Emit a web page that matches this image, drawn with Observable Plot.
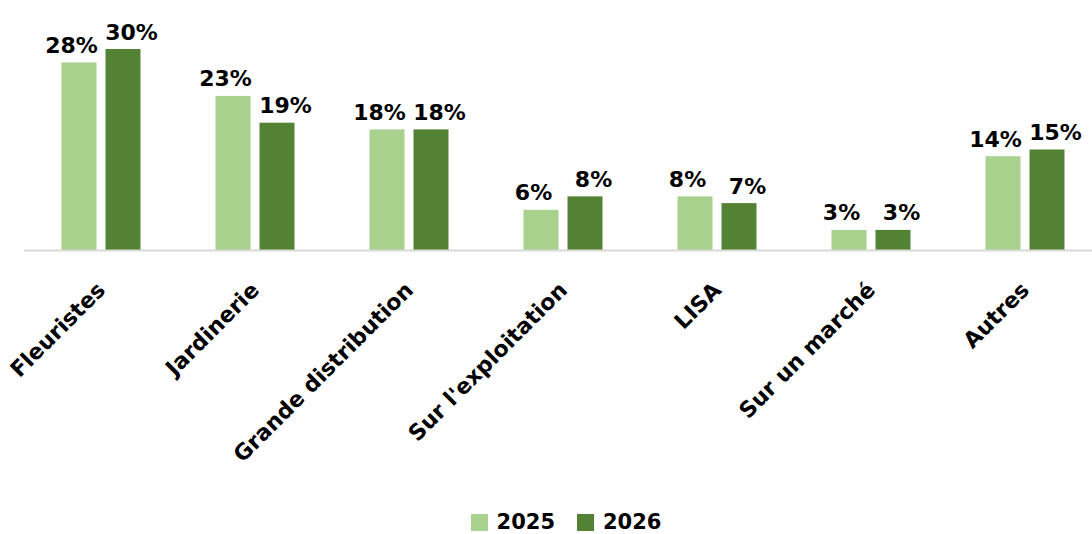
<!DOCTYPE html>
<html>
<head>
<meta charset="utf-8">
<script src="https://cdn.jsdelivr.net/npm/d3@7"></script>
<script src="https://cdn.jsdelivr.net/npm/@observablehq/plot@0.6"></script>
<style>
  body { margin: 0; background: #fff; font-family: "DejaVu Sans", sans-serif; }
  #legend { height: 44px; box-sizing: border-box; padding-top: 20px; padding-left: 40px;
    display: flex; justify-content: center; align-items: center; gap: 22px;
    font-weight: 700; font-size: 21px; color: #000; }
  .item { display: flex; align-items: center; gap: 9px; }
  .sw { width: 17px; height: 17px; display: inline-block; }
</style>
</head>
<body>
<div id="chart"></div>
<div id="legend"></div>
<script>
const categories = ["Fleuristes", "Jardinerie", "Grande distribution", "Sur l'exploitation", "LISA", "Sur un marché", "Autres"];
const years = ["2025", "2026"];
const values2025 = [28, 23, 18, 6, 8, 3, 14];
const values2026 = [30, 19, 18, 8, 7, 3, 15];
const colors = ["#a9d18e", "#548235"];

const d25 = categories.map((c, i) => ({cat: c, v: values2025[i]}));
const d26 = categories.map((c, i) => ({cat: c, v: values2026[i]}));

const inset = 59.5;
const off = 22;
const labelShift = 8;
const fmt = d => d.v + "%";

const plot = Plot.plot({
  width: 1092,
  height: 490,
  marginLeft: 24,
  marginRight: 0,
  marginTop: 10,
  marginBottom: 240,
  style: {fontFamily: "'DejaVu Sans', sans-serif", color: "#000", background: "#fff"},
  x: {domain: categories, range: [24, 1102], padding: 0},
  y: {domain: [0, 30], range: [250, 49]},
  marks: [
    Plot.barY(d25, {x: "cat", y: "v", fill: colors[0], insetLeft: inset, insetRight: inset, dx: -off}),
    Plot.barY(d26, {x: "cat", y: "v", fill: colors[1], insetLeft: inset, insetRight: inset, dx: off}),
    Plot.ruleY([0], {stroke: "#d9d9d9", strokeWidth: 2}),
    Plot.text(d25, {x: "cat", y: "v", text: fmt, dx: -off - labelShift, dy: -10, lineAnchor: "bottom", fontSize: 22, fontWeight: 700, fill: "#000"}),
    Plot.text(d26, {x: "cat", y: "v", text: fmt, dx: off + labelShift, dy: -10, lineAnchor: "bottom", fontSize: 22, fontWeight: 700, fill: "#000"}),
    Plot.axisX({tickRotate: -45, tickSize: 0, tickPadding: 36, fontSize: 22, fontWeight: 700, fill: "#000", label: null}),
    Plot.axisY({ticks: [], label: null, tickSize: 0})
  ]
});
document.getElementById("chart").appendChild(plot);

const legend = document.getElementById("legend");
years.forEach((y, i) => {
  const it = document.createElement("div");
  it.className = "item";
  it.innerHTML = `<span class="sw" style="background:${colors[i]}"></span><span>${y}</span>`;
  legend.appendChild(it);
});
</script>
</body>
</html>
